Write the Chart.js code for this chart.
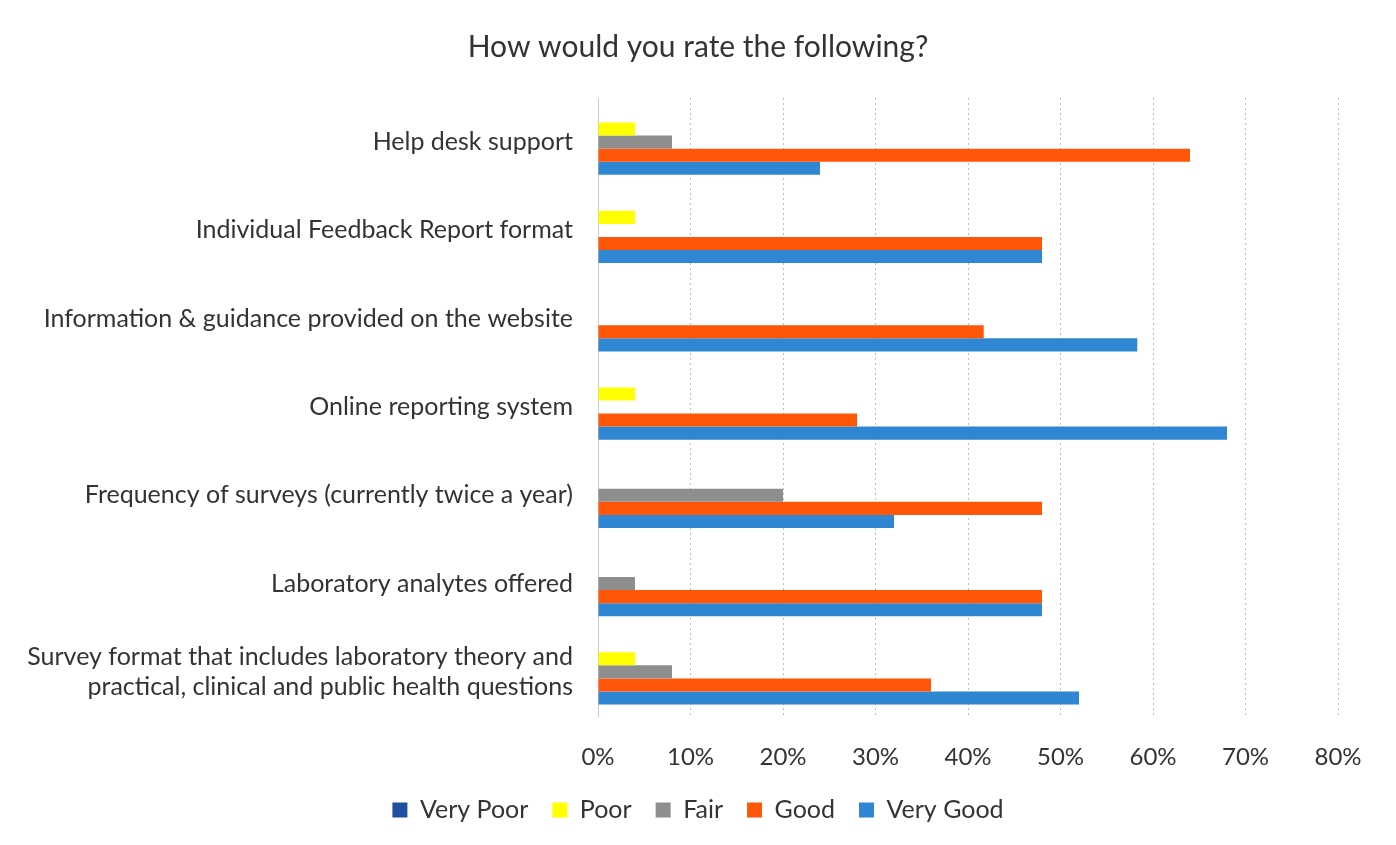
<!DOCTYPE html>
<html>
<head>
<meta charset="utf-8">
<script src="https://cdn.jsdelivr.net/npm/chart.js@4"></script>
<style>
    html, body { margin: 0; padding: 0; background: #fff; }
    #wrap { width: 1396px; height: 845px; }
</style>
</head>
<body>
<div id="wrap"><canvas id="ratingChart"></canvas></div>
<script>
// ===== Datos =====
const categories = [
    'Help desk support',
    'Individual Feedback Report format',
    'Information & guidance provided on the website',
    'Online reporting system',
    'Frequency of surveys (currently twice a year)',
    'Laboratory analytes offered',
    ['Survey format that includes laboratory theory and', 'practical, clinical and public health questions']
];
const seriesNames = ['Very Poor', 'Poor', 'Fair', 'Good', 'Very Good'];
const veryPoor = [0, 0, 0, 0, 0, 0, 0];
const poor = [4, 4, 0, 4, 0, 0, 4];
const fair = [8, 0, 0, 0, 20, 4, 8];
const good = [64, 48, 41.7, 28, 48, 48, 36];
const veryGood = [24, 48, 58.3, 68, 32, 48, 52];
const xTicks = [0, 10, 20, 30, 40, 50, 60, 70, 80];

const seriesColors = ['#1f4f9e', '#ffff00', '#8e8e8e', '#ff560a', '#2f86d2'];
const textColor = '#333333';
const fontFamily = 'Lato, "Liberation Sans", sans-serif';

const ctx = document.getElementById('ratingChart').getContext('2d');
const chart = new Chart(ctx, {
    type: 'bar',
    data: {
        labels: categories,
        datasets: [veryPoor, poor, fair, good, veryGood].map((vals, i) => ({
            label: seriesNames[i],
            data: vals,
            backgroundColor: seriesColors[i],
            borderWidth: 0,
            barPercentage: 1.0,
            categoryPercentage: 0.74
        }))
    },
    options: {
        indexAxis: 'y',
        responsive: true,
        maintainAspectRatio: false,
        animation: false,
        layout: { padding: { top: 0, right: 0, bottom: 12.5, left: 0 } },
        plugins: {
            title: {
                display: true,
                text: 'How would you rate the following?',
                color: textColor,
                font: { family: fontFamily, size: 30, weight: 'normal' },
                padding: { top: 29, bottom: 33 }
            },
            legend: {
                position: 'bottom',
                labels: {
                    color: textColor,
                    font: { family: fontFamily, size: 25 },
                    boxWidth: 15,
                    boxHeight: 15,
                    padding: 24
                }
            },
            tooltip: { enabled: false }
        },
        scales: {
            x: {
                min: 0,
                max: 80,
                afterBuildTicks: (scale) => { scale.ticks = xTicks.map(v => ({ value: v })); },
                afterFit: (scale) => { scale.height = 57.5; },
                ticks: {
                    color: textColor,
                    font: { family: fontFamily, size: 24 },
                    padding: 27,
                    callback: (v) => v + '%'
                },
                grid: {
                    color: '#bdbdbd',
                    lineWidth: 1,
                    drawTicks: false
                },
                border: { display: false, dash: [2, 3] }
            },
            y: {
                afterFit: (scale) => { scale.width = 598; },
                ticks: {
                    color: textColor,
                    font: { family: fontFamily, size: 25 },
                    padding: 25
                },
                grid: { display: false, drawTicks: false },
                border: { display: true, color: '#c8c8c8' }
            },
            // margen derecho vacío
            y2: {
                type: 'category',
                position: 'right',
                afterFit: (scale) => { scale.width = 58; },
                ticks: { display: false },
                grid: { display: false, drawTicks: false },
                border: { display: false }
            }
        }
    }
});
</script>
</body>
</html>
